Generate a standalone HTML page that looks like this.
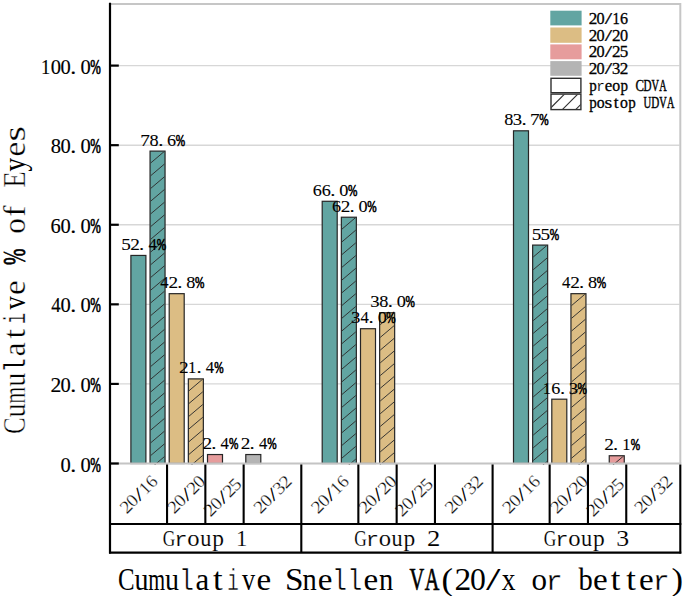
<!DOCTYPE html>
<html><head><meta charset="utf-8"><title>Cumulative Snellen VA chart</title>
<style>html,body{margin:0;padding:0;background:#fff;width:685px;height:596px;overflow:hidden}
svg{display:block} text{font-family:"Liberation Serif",serif}</style></head>
<body><svg width="685" height="596" viewBox="0 0 685 596" font-family="Liberation Serif, serif" fill="#000"><defs><clipPath id="c1"><rect x="150.65" y="151.71" width="13.80" height="312.99"/></clipPath><clipPath id="c2"><rect x="188.95" y="379.49" width="13.80" height="85.21"/></clipPath><clipPath id="c3"><rect x="341.95" y="217.82" width="13.80" height="246.88"/></clipPath><clipPath id="c4"><rect x="380.25" y="313.38" width="13.80" height="151.32"/></clipPath><clipPath id="c5"><rect x="533.25" y="245.69" width="13.80" height="219.01"/></clipPath><clipPath id="c6"><rect x="571.55" y="294.27" width="13.80" height="170.43"/></clipPath><clipPath id="c7"><rect x="609.85" y="456.34" width="13.80" height="8.36"/></clipPath><clipPath id="lh"><rect x="551.3" y="94.4" width="29.3" height="14.9"/></clipPath></defs>
<line x1="111" y1="383.92" x2="679.5" y2="383.92" stroke="#d7d7d7" stroke-width="1.4"/>
<line x1="111" y1="304.34" x2="679.5" y2="304.34" stroke="#d7d7d7" stroke-width="1.4"/>
<line x1="111" y1="224.76" x2="679.5" y2="224.76" stroke="#d7d7d7" stroke-width="1.4"/>
<line x1="111" y1="145.18" x2="679.5" y2="145.18" stroke="#d7d7d7" stroke-width="1.4"/>
<line x1="111" y1="65.60" x2="679.5" y2="65.60" stroke="#d7d7d7" stroke-width="1.4"/>
<line x1="110" y1="4.1" x2="680.3" y2="4.1" stroke="#c6c6c6" stroke-width="2"/>
<line x1="680.3" y1="3.1" x2="680.3" y2="463.5" stroke="#c6c6c6" stroke-width="2"/>
<rect x="130.90" y="255.44" width="15.00" height="208.06" fill="#62a5a2" stroke="#262626" stroke-width="1.2"/>
<rect x="150.05" y="151.11" width="15.00" height="312.39" fill="#62a5a2" stroke="#262626" stroke-width="1.2"/>
<g clip-path="url(#c1)" stroke="#2e2e2e" stroke-width="0.95"><line x1="165.05" y1="150.81" x2="150.05" y2="163.53"/><line x1="165.05" y1="163.53" x2="150.05" y2="176.25"/><line x1="165.05" y1="176.25" x2="150.05" y2="188.97"/><line x1="165.05" y1="188.97" x2="150.05" y2="201.69"/><line x1="165.05" y1="201.69" x2="150.05" y2="214.41"/><line x1="165.05" y1="214.41" x2="150.05" y2="227.13"/><line x1="165.05" y1="227.13" x2="150.05" y2="239.85"/><line x1="165.05" y1="239.85" x2="150.05" y2="252.57"/><line x1="165.05" y1="252.57" x2="150.05" y2="265.29"/><line x1="165.05" y1="265.29" x2="150.05" y2="278.01"/><line x1="165.05" y1="278.01" x2="150.05" y2="290.73"/><line x1="165.05" y1="290.73" x2="150.05" y2="303.45"/><line x1="165.05" y1="303.45" x2="150.05" y2="316.17"/><line x1="165.05" y1="316.17" x2="150.05" y2="328.89"/><line x1="165.05" y1="328.89" x2="150.05" y2="341.61"/><line x1="165.05" y1="341.61" x2="150.05" y2="354.33"/><line x1="165.05" y1="354.33" x2="150.05" y2="367.05"/><line x1="165.05" y1="367.05" x2="150.05" y2="379.77"/><line x1="165.05" y1="379.77" x2="150.05" y2="392.49"/><line x1="165.05" y1="392.49" x2="150.05" y2="405.21"/><line x1="165.05" y1="405.21" x2="150.05" y2="417.93"/><line x1="165.05" y1="417.93" x2="150.05" y2="430.65"/><line x1="165.05" y1="430.65" x2="150.05" y2="443.37"/><line x1="165.05" y1="443.37" x2="150.05" y2="456.09"/><line x1="165.05" y1="456.09" x2="150.05" y2="468.81"/></g>
<rect x="169.20" y="293.67" width="15.00" height="169.83" fill="#dcbd84" stroke="#262626" stroke-width="1.2"/>
<rect x="188.35" y="378.89" width="15.00" height="84.61" fill="#dcbd84" stroke="#262626" stroke-width="1.2"/>
<g clip-path="url(#c2)" stroke="#2e2e2e" stroke-width="0.95"><line x1="203.35" y1="378.59" x2="188.35" y2="391.31"/><line x1="203.35" y1="391.31" x2="188.35" y2="404.03"/><line x1="203.35" y1="404.03" x2="188.35" y2="416.75"/><line x1="203.35" y1="416.75" x2="188.35" y2="429.47"/><line x1="203.35" y1="429.47" x2="188.35" y2="442.19"/><line x1="203.35" y1="442.19" x2="188.35" y2="454.91"/><line x1="203.35" y1="454.91" x2="188.35" y2="467.63"/></g>
<rect x="207.50" y="454.54" width="15.00" height="8.96" fill="#e69c9c" stroke="#262626" stroke-width="1.2"/>
<rect x="245.80" y="454.54" width="15.00" height="8.96" fill="#b4b4b4" stroke="#262626" stroke-width="1.2"/>
<rect x="322.20" y="201.29" width="15.00" height="262.21" fill="#62a5a2" stroke="#262626" stroke-width="1.2"/>
<rect x="341.35" y="217.22" width="15.00" height="246.28" fill="#62a5a2" stroke="#262626" stroke-width="1.2"/>
<g clip-path="url(#c3)" stroke="#2e2e2e" stroke-width="0.95"><line x1="356.35" y1="216.92" x2="341.35" y2="229.64"/><line x1="356.35" y1="229.64" x2="341.35" y2="242.36"/><line x1="356.35" y1="242.36" x2="341.35" y2="255.08"/><line x1="356.35" y1="255.08" x2="341.35" y2="267.80"/><line x1="356.35" y1="267.80" x2="341.35" y2="280.52"/><line x1="356.35" y1="280.52" x2="341.35" y2="293.24"/><line x1="356.35" y1="293.24" x2="341.35" y2="305.96"/><line x1="356.35" y1="305.96" x2="341.35" y2="318.68"/><line x1="356.35" y1="318.68" x2="341.35" y2="331.40"/><line x1="356.35" y1="331.40" x2="341.35" y2="344.12"/><line x1="356.35" y1="344.12" x2="341.35" y2="356.84"/><line x1="356.35" y1="356.84" x2="341.35" y2="369.56"/><line x1="356.35" y1="369.56" x2="341.35" y2="382.28"/><line x1="356.35" y1="382.28" x2="341.35" y2="395.00"/><line x1="356.35" y1="395.00" x2="341.35" y2="407.72"/><line x1="356.35" y1="407.72" x2="341.35" y2="420.44"/><line x1="356.35" y1="420.44" x2="341.35" y2="433.16"/><line x1="356.35" y1="433.16" x2="341.35" y2="445.88"/><line x1="356.35" y1="445.88" x2="341.35" y2="458.60"/><line x1="356.35" y1="458.60" x2="341.35" y2="471.32"/></g>
<rect x="360.50" y="328.71" width="15.00" height="134.79" fill="#dcbd84" stroke="#262626" stroke-width="1.2"/>
<rect x="379.65" y="312.78" width="15.00" height="150.72" fill="#dcbd84" stroke="#262626" stroke-width="1.2"/>
<g clip-path="url(#c4)" stroke="#2e2e2e" stroke-width="0.95"><line x1="394.65" y1="312.48" x2="379.65" y2="325.20"/><line x1="394.65" y1="325.20" x2="379.65" y2="337.92"/><line x1="394.65" y1="337.92" x2="379.65" y2="350.64"/><line x1="394.65" y1="350.64" x2="379.65" y2="363.36"/><line x1="394.65" y1="363.36" x2="379.65" y2="376.08"/><line x1="394.65" y1="376.08" x2="379.65" y2="388.80"/><line x1="394.65" y1="388.80" x2="379.65" y2="401.52"/><line x1="394.65" y1="401.52" x2="379.65" y2="414.24"/><line x1="394.65" y1="414.24" x2="379.65" y2="426.96"/><line x1="394.65" y1="426.96" x2="379.65" y2="439.68"/><line x1="394.65" y1="439.68" x2="379.65" y2="452.40"/><line x1="394.65" y1="452.40" x2="379.65" y2="465.12"/><line x1="394.65" y1="465.12" x2="379.65" y2="477.84"/></g>
<rect x="513.50" y="130.81" width="15.00" height="332.69" fill="#62a5a2" stroke="#262626" stroke-width="1.2"/>
<rect x="532.65" y="245.09" width="15.00" height="218.41" fill="#62a5a2" stroke="#262626" stroke-width="1.2"/>
<g clip-path="url(#c5)" stroke="#2e2e2e" stroke-width="0.95"><line x1="547.65" y1="244.79" x2="532.65" y2="257.51"/><line x1="547.65" y1="257.51" x2="532.65" y2="270.23"/><line x1="547.65" y1="270.23" x2="532.65" y2="282.95"/><line x1="547.65" y1="282.95" x2="532.65" y2="295.67"/><line x1="547.65" y1="295.67" x2="532.65" y2="308.39"/><line x1="547.65" y1="308.39" x2="532.65" y2="321.11"/><line x1="547.65" y1="321.11" x2="532.65" y2="333.83"/><line x1="547.65" y1="333.83" x2="532.65" y2="346.55"/><line x1="547.65" y1="346.55" x2="532.65" y2="359.27"/><line x1="547.65" y1="359.27" x2="532.65" y2="371.99"/><line x1="547.65" y1="371.99" x2="532.65" y2="384.71"/><line x1="547.65" y1="384.71" x2="532.65" y2="397.43"/><line x1="547.65" y1="397.43" x2="532.65" y2="410.15"/><line x1="547.65" y1="410.15" x2="532.65" y2="422.87"/><line x1="547.65" y1="422.87" x2="532.65" y2="435.59"/><line x1="547.65" y1="435.59" x2="532.65" y2="448.31"/><line x1="547.65" y1="448.31" x2="532.65" y2="461.03"/><line x1="547.65" y1="461.03" x2="532.65" y2="473.75"/></g>
<rect x="551.80" y="399.19" width="15.00" height="64.31" fill="#dcbd84" stroke="#262626" stroke-width="1.2"/>
<rect x="570.95" y="293.67" width="15.00" height="169.83" fill="#dcbd84" stroke="#262626" stroke-width="1.2"/>
<g clip-path="url(#c6)" stroke="#2e2e2e" stroke-width="0.95"><line x1="585.95" y1="293.37" x2="570.95" y2="306.09"/><line x1="585.95" y1="306.09" x2="570.95" y2="318.81"/><line x1="585.95" y1="318.81" x2="570.95" y2="331.53"/><line x1="585.95" y1="331.53" x2="570.95" y2="344.25"/><line x1="585.95" y1="344.25" x2="570.95" y2="356.97"/><line x1="585.95" y1="356.97" x2="570.95" y2="369.69"/><line x1="585.95" y1="369.69" x2="570.95" y2="382.41"/><line x1="585.95" y1="382.41" x2="570.95" y2="395.13"/><line x1="585.95" y1="395.13" x2="570.95" y2="407.85"/><line x1="585.95" y1="407.85" x2="570.95" y2="420.57"/><line x1="585.95" y1="420.57" x2="570.95" y2="433.29"/><line x1="585.95" y1="433.29" x2="570.95" y2="446.01"/><line x1="585.95" y1="446.01" x2="570.95" y2="458.73"/><line x1="585.95" y1="458.73" x2="570.95" y2="471.45"/></g>
<rect x="609.25" y="455.74" width="15.00" height="7.76" fill="#e69c9c" stroke="#262626" stroke-width="1.2"/>
<g clip-path="url(#c7)" stroke="#2e2e2e" stroke-width="0.95"><line x1="624.25" y1="455.44" x2="609.25" y2="468.16"/></g>
<line x1="110" y1="463.5" x2="681.3" y2="463.5" stroke="#c4c4c4" stroke-width="2"/>
<text transform="translate(121.21,249.89) scale(1.111,1.0)" font-size="17.3" stroke="#000" stroke-width="0.09">5</text>
<text transform="translate(130.28,249.89) scale(1.117,1.0)" font-size="17.3" stroke="#000" stroke-width="0.09">2</text>
<text transform="translate(139.01,249.89) scale(1.200,1.0)" font-size="17.3" stroke="#000" stroke-width="0.08">.</text>
<text transform="translate(148.40,249.89) scale(0.963,1.0)" font-size="17.3" stroke="#000" stroke-width="0.10">4</text>
<text transform="translate(156.70,249.89) scale(0.652,1.0)" font-size="17.3" stroke="#000" stroke-width="0.69">%</text>
<text transform="translate(140.22,145.56) scale(1.105,1.0)" font-size="17.3" stroke="#000" stroke-width="0.09">7</text>
<text transform="translate(149.58,145.56) scale(1.056,1.0)" font-size="17.3" stroke="#000" stroke-width="0.09">8</text>
<text transform="translate(158.16,145.56) scale(1.200,1.0)" font-size="17.3" stroke="#000" stroke-width="0.08">.</text>
<text transform="translate(167.10,145.56) scale(1.048,1.0)" font-size="17.3" stroke="#000" stroke-width="0.10">6</text>
<text transform="translate(175.85,145.56) scale(0.652,1.0)" font-size="17.3" stroke="#000" stroke-width="0.69">%</text>
<text transform="translate(160.30,288.12) scale(0.963,1.0)" font-size="17.3" stroke="#000" stroke-width="0.10">4</text>
<text transform="translate(168.58,288.12) scale(1.117,1.0)" font-size="17.3" stroke="#000" stroke-width="0.09">2</text>
<text transform="translate(177.31,288.12) scale(1.200,1.0)" font-size="17.3" stroke="#000" stroke-width="0.08">.</text>
<text transform="translate(186.33,288.12) scale(1.056,1.0)" font-size="17.3" stroke="#000" stroke-width="0.09">8</text>
<text transform="translate(195.00,288.12) scale(0.652,1.0)" font-size="17.3" stroke="#000" stroke-width="0.69">%</text>
<text transform="translate(178.93,373.34) scale(1.117,1.0)" font-size="17.3" stroke="#000" stroke-width="0.09">2</text>
<text transform="translate(188.10,373.34) scale(0.954,1.0)" font-size="17.3" stroke="#000" stroke-width="0.10">1</text>
<text transform="translate(196.46,373.34) scale(1.200,1.0)" font-size="17.3" stroke="#000" stroke-width="0.08">.</text>
<text transform="translate(205.85,373.34) scale(0.963,1.0)" font-size="17.3" stroke="#000" stroke-width="0.10">4</text>
<text transform="translate(214.15,373.34) scale(0.652,1.0)" font-size="17.3" stroke="#000" stroke-width="0.69">%</text>
<text transform="translate(202.48,448.99) scale(1.117,1.0)" font-size="17.3" stroke="#000" stroke-width="0.09">2</text>
<text transform="translate(211.21,448.99) scale(1.200,1.0)" font-size="17.3" stroke="#000" stroke-width="0.08">.</text>
<text transform="translate(220.60,448.99) scale(0.963,1.0)" font-size="17.3" stroke="#000" stroke-width="0.10">4</text>
<text transform="translate(228.90,448.99) scale(0.652,1.0)" font-size="17.3" stroke="#000" stroke-width="0.69">%</text>
<text transform="translate(240.78,448.99) scale(1.117,1.0)" font-size="17.3" stroke="#000" stroke-width="0.09">2</text>
<text transform="translate(249.50,448.99) scale(1.200,1.0)" font-size="17.3" stroke="#000" stroke-width="0.08">.</text>
<text transform="translate(258.90,448.99) scale(0.963,1.0)" font-size="17.3" stroke="#000" stroke-width="0.10">4</text>
<text transform="translate(267.20,448.99) scale(0.652,1.0)" font-size="17.3" stroke="#000" stroke-width="0.69">%</text>
<text transform="translate(312.85,195.74) scale(1.048,1.0)" font-size="17.3" stroke="#000" stroke-width="0.10">6</text>
<text transform="translate(321.65,195.74) scale(1.048,1.0)" font-size="17.3" stroke="#000" stroke-width="0.10">6</text>
<text transform="translate(330.31,195.74) scale(1.200,1.0)" font-size="17.3" stroke="#000" stroke-width="0.08">.</text>
<text transform="translate(339.33,195.74) scale(1.056,1.0)" font-size="17.3" stroke="#000" stroke-width="0.09">0</text>
<text transform="translate(348.00,195.74) scale(0.652,1.0)" font-size="17.3" stroke="#000" stroke-width="0.69">%</text>
<text transform="translate(332.00,211.67) scale(1.048,1.0)" font-size="17.3" stroke="#000" stroke-width="0.10">6</text>
<text transform="translate(340.73,211.67) scale(1.117,1.0)" font-size="17.3" stroke="#000" stroke-width="0.09">2</text>
<text transform="translate(349.45,211.67) scale(1.200,1.0)" font-size="17.3" stroke="#000" stroke-width="0.08">.</text>
<text transform="translate(358.48,211.67) scale(1.056,1.0)" font-size="17.3" stroke="#000" stroke-width="0.09">0</text>
<text transform="translate(367.15,211.67) scale(0.652,1.0)" font-size="17.3" stroke="#000" stroke-width="0.69">%</text>
<text transform="translate(351.03,323.16) scale(1.084,1.0)" font-size="17.3" stroke="#000" stroke-width="0.09">3</text>
<text transform="translate(360.40,323.16) scale(0.963,1.0)" font-size="17.3" stroke="#000" stroke-width="0.10">4</text>
<text transform="translate(368.61,323.16) scale(1.200,1.0)" font-size="17.3" stroke="#000" stroke-width="0.08">.</text>
<text transform="translate(377.63,323.16) scale(1.056,1.0)" font-size="17.3" stroke="#000" stroke-width="0.09">0</text>
<text transform="translate(386.30,323.16) scale(0.652,1.0)" font-size="17.3" stroke="#000" stroke-width="0.69">%</text>
<text transform="translate(370.18,307.23) scale(1.084,1.0)" font-size="17.3" stroke="#000" stroke-width="0.09">3</text>
<text transform="translate(379.18,307.23) scale(1.056,1.0)" font-size="17.3" stroke="#000" stroke-width="0.09">8</text>
<text transform="translate(387.75,307.23) scale(1.200,1.0)" font-size="17.3" stroke="#000" stroke-width="0.08">.</text>
<text transform="translate(396.78,307.23) scale(1.056,1.0)" font-size="17.3" stroke="#000" stroke-width="0.09">0</text>
<text transform="translate(405.45,307.23) scale(0.652,1.0)" font-size="17.3" stroke="#000" stroke-width="0.69">%</text>
<text transform="translate(504.23,125.26) scale(1.056,1.0)" font-size="17.3" stroke="#000" stroke-width="0.09">8</text>
<text transform="translate(512.83,125.26) scale(1.084,1.0)" font-size="17.3" stroke="#000" stroke-width="0.09">3</text>
<text transform="translate(521.60,125.26) scale(1.200,1.0)" font-size="17.3" stroke="#000" stroke-width="0.08">.</text>
<text transform="translate(530.07,125.26) scale(1.105,1.0)" font-size="17.3" stroke="#000" stroke-width="0.09">7</text>
<text transform="translate(539.30,125.26) scale(0.652,1.0)" font-size="17.3" stroke="#000" stroke-width="0.69">%</text>
<text transform="translate(531.76,239.54) scale(1.111,1.0)" font-size="17.3" stroke="#000" stroke-width="0.09">5</text>
<text transform="translate(540.56,239.54) scale(1.111,1.0)" font-size="17.3" stroke="#000" stroke-width="0.09">5</text>
<text transform="translate(549.65,239.54) scale(0.652,1.0)" font-size="17.3" stroke="#000" stroke-width="0.69">%</text>
<text transform="translate(542.75,393.64) scale(0.954,1.0)" font-size="17.3" stroke="#000" stroke-width="0.10">1</text>
<text transform="translate(551.25,393.64) scale(1.048,1.0)" font-size="17.3" stroke="#000" stroke-width="0.10">6</text>
<text transform="translate(559.90,393.64) scale(1.200,1.0)" font-size="17.3" stroke="#000" stroke-width="0.08">.</text>
<text transform="translate(568.73,393.64) scale(1.084,1.0)" font-size="17.3" stroke="#000" stroke-width="0.09">3</text>
<text transform="translate(577.60,393.64) scale(0.652,1.0)" font-size="17.3" stroke="#000" stroke-width="0.69">%</text>
<text transform="translate(562.05,288.12) scale(0.963,1.0)" font-size="17.3" stroke="#000" stroke-width="0.10">4</text>
<text transform="translate(570.33,288.12) scale(1.117,1.0)" font-size="17.3" stroke="#000" stroke-width="0.09">2</text>
<text transform="translate(579.05,288.12) scale(1.200,1.0)" font-size="17.3" stroke="#000" stroke-width="0.08">.</text>
<text transform="translate(588.08,288.12) scale(1.056,1.0)" font-size="17.3" stroke="#000" stroke-width="0.09">8</text>
<text transform="translate(596.75,288.12) scale(0.652,1.0)" font-size="17.3" stroke="#000" stroke-width="0.69">%</text>
<text transform="translate(604.23,450.19) scale(1.117,1.0)" font-size="17.3" stroke="#000" stroke-width="0.09">2</text>
<text transform="translate(612.95,450.19) scale(1.200,1.0)" font-size="17.3" stroke="#000" stroke-width="0.08">.</text>
<text transform="translate(622.20,450.19) scale(0.954,1.0)" font-size="17.3" stroke="#000" stroke-width="0.10">1</text>
<text transform="translate(630.65,450.19) scale(0.652,1.0)" font-size="17.3" stroke="#000" stroke-width="0.69">%</text>
<line x1="110" y1="2.8" x2="110" y2="553.5" stroke="#000" stroke-width="2.2"/>
<line x1="110" y1="463.50" x2="118.8" y2="463.50" stroke="#000" stroke-width="2.2"/>
<text transform="translate(60.61,471.50) scale(1.033,1.0)" font-size="19.9" stroke="#000" stroke-width="0.15">0</text>
<text transform="translate(70.19,471.50) scale(1.200,1.0)" font-size="19.9" stroke="#000" stroke-width="0.12">.</text>
<text transform="translate(80.41,471.50) scale(1.033,1.0)" font-size="19.9" stroke="#000" stroke-width="0.15">0</text>
<text transform="translate(90.17,471.50) scale(0.638,1.0)" font-size="19.9" stroke="#000" stroke-width="0.71">%</text>
<line x1="110" y1="383.92" x2="118.8" y2="383.92" stroke="#000" stroke-width="2.2"/>
<text transform="translate(50.54,391.92) scale(1.092,1.0)" font-size="19.9" stroke="#000" stroke-width="0.14">2</text>
<text transform="translate(60.61,391.92) scale(1.033,1.0)" font-size="19.9" stroke="#000" stroke-width="0.15">0</text>
<text transform="translate(70.19,391.92) scale(1.200,1.0)" font-size="19.9" stroke="#000" stroke-width="0.12">.</text>
<text transform="translate(80.41,391.92) scale(1.033,1.0)" font-size="19.9" stroke="#000" stroke-width="0.15">0</text>
<text transform="translate(90.17,391.92) scale(0.638,1.0)" font-size="19.9" stroke="#000" stroke-width="0.71">%</text>
<line x1="110" y1="304.34" x2="118.8" y2="304.34" stroke="#000" stroke-width="2.2"/>
<text transform="translate(51.13,312.34) scale(0.942,1.0)" font-size="19.9" stroke="#000" stroke-width="0.16">4</text>
<text transform="translate(60.61,312.34) scale(1.033,1.0)" font-size="19.9" stroke="#000" stroke-width="0.15">0</text>
<text transform="translate(70.19,312.34) scale(1.200,1.0)" font-size="19.9" stroke="#000" stroke-width="0.12">.</text>
<text transform="translate(80.41,312.34) scale(1.033,1.0)" font-size="19.9" stroke="#000" stroke-width="0.15">0</text>
<text transform="translate(90.17,312.34) scale(0.638,1.0)" font-size="19.9" stroke="#000" stroke-width="0.71">%</text>
<line x1="110" y1="224.76" x2="118.8" y2="224.76" stroke="#000" stroke-width="2.2"/>
<text transform="translate(50.62,232.76) scale(1.025,1.0)" font-size="19.9" stroke="#000" stroke-width="0.15">6</text>
<text transform="translate(60.61,232.76) scale(1.033,1.0)" font-size="19.9" stroke="#000" stroke-width="0.15">0</text>
<text transform="translate(70.19,232.76) scale(1.200,1.0)" font-size="19.9" stroke="#000" stroke-width="0.12">.</text>
<text transform="translate(80.41,232.76) scale(1.033,1.0)" font-size="19.9" stroke="#000" stroke-width="0.15">0</text>
<text transform="translate(90.17,232.76) scale(0.638,1.0)" font-size="19.9" stroke="#000" stroke-width="0.71">%</text>
<line x1="110" y1="145.18" x2="118.8" y2="145.18" stroke="#000" stroke-width="2.2"/>
<text transform="translate(50.71,153.18) scale(1.033,1.0)" font-size="19.9" stroke="#000" stroke-width="0.15">8</text>
<text transform="translate(60.61,153.18) scale(1.033,1.0)" font-size="19.9" stroke="#000" stroke-width="0.15">0</text>
<text transform="translate(70.19,153.18) scale(1.200,1.0)" font-size="19.9" stroke="#000" stroke-width="0.12">.</text>
<text transform="translate(80.41,153.18) scale(1.033,1.0)" font-size="19.9" stroke="#000" stroke-width="0.15">0</text>
<text transform="translate(90.17,153.18) scale(0.638,1.0)" font-size="19.9" stroke="#000" stroke-width="0.71">%</text>
<line x1="110" y1="65.60" x2="118.8" y2="65.60" stroke="#000" stroke-width="2.2"/>
<text transform="translate(41.05,73.60) scale(0.933,1.0)" font-size="19.9" stroke="#000" stroke-width="0.16">1</text>
<text transform="translate(50.71,73.60) scale(1.033,1.0)" font-size="19.9" stroke="#000" stroke-width="0.15">0</text>
<text transform="translate(60.61,73.60) scale(1.033,1.0)" font-size="19.9" stroke="#000" stroke-width="0.15">0</text>
<text transform="translate(70.19,73.60) scale(1.200,1.0)" font-size="19.9" stroke="#000" stroke-width="0.12">.</text>
<text transform="translate(80.41,73.60) scale(1.033,1.0)" font-size="19.9" stroke="#000" stroke-width="0.15">0</text>
<text transform="translate(90.17,73.60) scale(0.638,1.0)" font-size="19.9" stroke="#000" stroke-width="0.71">%</text>
<g transform="translate(138.53,494.20) rotate(-45)"><text transform="translate(-22.83,6.00) scale(1.110,1.0)" font-size="17.8" stroke="#fff" stroke-width="0.23">2</text>
<text transform="translate(-13.67,6.00) scale(1.050,1.0)" font-size="17.8" stroke="#fff" stroke-width="0.24">0</text>
<text transform="translate(-4.27,6.00) scale(1.729,1.0)" font-size="17.8">/</text>
<text transform="translate(4.55,6.00) scale(0.948,1.0)" font-size="17.8" stroke="#fff" stroke-width="0.26">1</text>
<text transform="translate(13.24,6.00) scale(1.041,1.0)" font-size="17.8" stroke="#fff" stroke-width="0.24">6</text></g>
<g transform="translate(186.20,494.20) rotate(-45)"><text transform="translate(-22.83,6.00) scale(1.110,1.0)" font-size="17.8" stroke="#fff" stroke-width="0.23">2</text>
<text transform="translate(-13.67,6.00) scale(1.050,1.0)" font-size="17.8" stroke="#fff" stroke-width="0.24">0</text>
<text transform="translate(-4.27,6.00) scale(1.729,1.0)" font-size="17.8">/</text>
<text transform="translate(4.17,6.00) scale(1.110,1.0)" font-size="17.8" stroke="#fff" stroke-width="0.23">2</text>
<text transform="translate(13.33,6.00) scale(1.050,1.0)" font-size="17.8" stroke="#fff" stroke-width="0.24">0</text></g>
<g transform="translate(222.50,497.00) rotate(-45)"><text transform="translate(-22.83,6.00) scale(1.110,1.0)" font-size="17.8" stroke="#fff" stroke-width="0.23">2</text>
<text transform="translate(-13.67,6.00) scale(1.050,1.0)" font-size="17.8" stroke="#fff" stroke-width="0.24">0</text>
<text transform="translate(-4.27,6.00) scale(1.729,1.0)" font-size="17.8">/</text>
<text transform="translate(4.17,6.00) scale(1.110,1.0)" font-size="17.8" stroke="#fff" stroke-width="0.23">2</text>
<text transform="translate(12.90,6.00) scale(1.105,1.0)" font-size="17.8" stroke="#fff" stroke-width="0.23">5</text></g>
<g transform="translate(272.48,494.20) rotate(-45)"><text transform="translate(-22.83,6.00) scale(1.110,1.0)" font-size="17.8" stroke="#fff" stroke-width="0.23">2</text>
<text transform="translate(-13.67,6.00) scale(1.050,1.0)" font-size="17.8" stroke="#fff" stroke-width="0.24">0</text>
<text transform="translate(-4.27,6.00) scale(1.729,1.0)" font-size="17.8">/</text>
<text transform="translate(4.12,6.00) scale(1.077,1.0)" font-size="17.8" stroke="#fff" stroke-width="0.23">3</text>
<text transform="translate(13.17,6.00) scale(1.110,1.0)" font-size="17.8" stroke="#fff" stroke-width="0.23">2</text></g>
<g transform="translate(329.83,494.20) rotate(-45)"><text transform="translate(-22.83,6.00) scale(1.110,1.0)" font-size="17.8" stroke="#fff" stroke-width="0.23">2</text>
<text transform="translate(-13.67,6.00) scale(1.050,1.0)" font-size="17.8" stroke="#fff" stroke-width="0.24">0</text>
<text transform="translate(-4.27,6.00) scale(1.729,1.0)" font-size="17.8">/</text>
<text transform="translate(4.55,6.00) scale(0.948,1.0)" font-size="17.8" stroke="#fff" stroke-width="0.26">1</text>
<text transform="translate(13.24,6.00) scale(1.041,1.0)" font-size="17.8" stroke="#fff" stroke-width="0.24">6</text></g>
<g transform="translate(377.50,494.20) rotate(-45)"><text transform="translate(-22.83,6.00) scale(1.110,1.0)" font-size="17.8" stroke="#fff" stroke-width="0.23">2</text>
<text transform="translate(-13.67,6.00) scale(1.050,1.0)" font-size="17.8" stroke="#fff" stroke-width="0.24">0</text>
<text transform="translate(-4.27,6.00) scale(1.729,1.0)" font-size="17.8">/</text>
<text transform="translate(4.17,6.00) scale(1.110,1.0)" font-size="17.8" stroke="#fff" stroke-width="0.23">2</text>
<text transform="translate(13.33,6.00) scale(1.050,1.0)" font-size="17.8" stroke="#fff" stroke-width="0.24">0</text></g>
<g transform="translate(413.80,497.00) rotate(-45)"><text transform="translate(-22.83,6.00) scale(1.110,1.0)" font-size="17.8" stroke="#fff" stroke-width="0.23">2</text>
<text transform="translate(-13.67,6.00) scale(1.050,1.0)" font-size="17.8" stroke="#fff" stroke-width="0.24">0</text>
<text transform="translate(-4.27,6.00) scale(1.729,1.0)" font-size="17.8">/</text>
<text transform="translate(4.17,6.00) scale(1.110,1.0)" font-size="17.8" stroke="#fff" stroke-width="0.23">2</text>
<text transform="translate(12.90,6.00) scale(1.105,1.0)" font-size="17.8" stroke="#fff" stroke-width="0.23">5</text></g>
<g transform="translate(463.77,494.20) rotate(-45)"><text transform="translate(-22.83,6.00) scale(1.110,1.0)" font-size="17.8" stroke="#fff" stroke-width="0.23">2</text>
<text transform="translate(-13.67,6.00) scale(1.050,1.0)" font-size="17.8" stroke="#fff" stroke-width="0.24">0</text>
<text transform="translate(-4.27,6.00) scale(1.729,1.0)" font-size="17.8">/</text>
<text transform="translate(4.12,6.00) scale(1.077,1.0)" font-size="17.8" stroke="#fff" stroke-width="0.23">3</text>
<text transform="translate(13.17,6.00) scale(1.110,1.0)" font-size="17.8" stroke="#fff" stroke-width="0.23">2</text></g>
<g transform="translate(521.12,494.20) rotate(-45)"><text transform="translate(-22.83,6.00) scale(1.110,1.0)" font-size="17.8" stroke="#fff" stroke-width="0.23">2</text>
<text transform="translate(-13.67,6.00) scale(1.050,1.0)" font-size="17.8" stroke="#fff" stroke-width="0.24">0</text>
<text transform="translate(-4.27,6.00) scale(1.729,1.0)" font-size="17.8">/</text>
<text transform="translate(4.55,6.00) scale(0.948,1.0)" font-size="17.8" stroke="#fff" stroke-width="0.26">1</text>
<text transform="translate(13.24,6.00) scale(1.041,1.0)" font-size="17.8" stroke="#fff" stroke-width="0.24">6</text></g>
<g transform="translate(568.80,494.20) rotate(-45)"><text transform="translate(-22.83,6.00) scale(1.110,1.0)" font-size="17.8" stroke="#fff" stroke-width="0.23">2</text>
<text transform="translate(-13.67,6.00) scale(1.050,1.0)" font-size="17.8" stroke="#fff" stroke-width="0.24">0</text>
<text transform="translate(-4.27,6.00) scale(1.729,1.0)" font-size="17.8">/</text>
<text transform="translate(4.17,6.00) scale(1.110,1.0)" font-size="17.8" stroke="#fff" stroke-width="0.23">2</text>
<text transform="translate(13.33,6.00) scale(1.050,1.0)" font-size="17.8" stroke="#fff" stroke-width="0.24">0</text></g>
<g transform="translate(605.10,497.00) rotate(-45)"><text transform="translate(-22.83,6.00) scale(1.110,1.0)" font-size="17.8" stroke="#fff" stroke-width="0.23">2</text>
<text transform="translate(-13.67,6.00) scale(1.050,1.0)" font-size="17.8" stroke="#fff" stroke-width="0.24">0</text>
<text transform="translate(-4.27,6.00) scale(1.729,1.0)" font-size="17.8">/</text>
<text transform="translate(4.17,6.00) scale(1.110,1.0)" font-size="17.8" stroke="#fff" stroke-width="0.23">2</text>
<text transform="translate(12.90,6.00) scale(1.105,1.0)" font-size="17.8" stroke="#fff" stroke-width="0.23">5</text></g>
<g transform="translate(653.27,494.20) rotate(-45)"><text transform="translate(-22.83,6.00) scale(1.110,1.0)" font-size="17.8" stroke="#fff" stroke-width="0.23">2</text>
<text transform="translate(-13.67,6.00) scale(1.050,1.0)" font-size="17.8" stroke="#fff" stroke-width="0.24">0</text>
<text transform="translate(-4.27,6.00) scale(1.729,1.0)" font-size="17.8">/</text>
<text transform="translate(4.12,6.00) scale(1.077,1.0)" font-size="17.8" stroke="#fff" stroke-width="0.23">3</text>
<text transform="translate(13.17,6.00) scale(1.110,1.0)" font-size="17.8" stroke="#fff" stroke-width="0.23">2</text></g>
<g stroke="#000" stroke-width="2.1">
<line x1="680.3" y1="464.5" x2="680.3" y2="553.5"/>
<line x1="109" y1="524" x2="681.3" y2="524"/>
<line x1="109" y1="552.6" x2="681.3" y2="552.6"/>
<line x1="167.05" y1="464.5" x2="167.05" y2="524"/>
<line x1="205.35" y1="464.5" x2="205.35" y2="524"/>
<line x1="243.65" y1="464.5" x2="243.65" y2="524"/>
<line x1="358.35" y1="464.5" x2="358.35" y2="524"/>
<line x1="396.65" y1="464.5" x2="396.65" y2="524"/>
<line x1="434.95" y1="464.5" x2="434.95" y2="524"/>
<line x1="549.65" y1="464.5" x2="549.65" y2="524"/>
<line x1="587.95" y1="464.5" x2="587.95" y2="524"/>
<line x1="626.25" y1="464.5" x2="626.25" y2="524"/>
<line x1="301.30" y1="464.5" x2="301.30" y2="552.6"/>
<line x1="492.60" y1="464.5" x2="492.60" y2="552.6"/>
</g>
<text transform="translate(162.84,546.20) scale(0.746,1.0)" font-size="23.3" stroke="#fff" stroke-width="0.16">G</text>
<text transform="translate(174.34,546.20) scale(1.094,1.0)" font-size="20.40" font-family="Liberation Mono" style="font-family:'Liberation Mono',monospace" stroke="#fff" stroke-width="0.19">r</text>
<text transform="translate(187.34,546.20) scale(1.058,1.0)" font-size="23.3" stroke="#fff" stroke-width="0.11">o</text>
<text transform="translate(200.13,546.20) scale(0.955,1.0)" font-size="23.3" stroke="#fff" stroke-width="0.13">u</text>
<text transform="translate(212.20,546.20) scale(1.008,1.0)" font-size="23.3" stroke="#fff" stroke-width="0.12">p</text>
<text transform="translate(236.09,546.20) scale(0.978,1.0)" font-size="23.3" stroke="#fff" stroke-width="0.12">1</text>
<text transform="translate(354.14,546.20) scale(0.746,1.0)" font-size="23.3" stroke="#fff" stroke-width="0.16">G</text>
<text transform="translate(365.64,546.20) scale(1.094,1.0)" font-size="20.40" font-family="Liberation Mono" style="font-family:'Liberation Mono',monospace" stroke="#fff" stroke-width="0.19">r</text>
<text transform="translate(378.64,546.20) scale(1.058,1.0)" font-size="23.3" stroke="#fff" stroke-width="0.11">o</text>
<text transform="translate(391.43,546.20) scale(0.955,1.0)" font-size="23.3" stroke="#fff" stroke-width="0.13">u</text>
<text transform="translate(403.50,546.20) scale(1.008,1.0)" font-size="23.3" stroke="#fff" stroke-width="0.12">p</text>
<text transform="translate(426.88,546.20) scale(1.145,1.0)" font-size="23.3" stroke="#fff" stroke-width="0.10">2</text>
<text transform="translate(543.64,546.20) scale(0.746,1.0)" font-size="23.3" stroke="#fff" stroke-width="0.16">G</text>
<text transform="translate(555.14,546.20) scale(1.094,1.0)" font-size="20.40" font-family="Liberation Mono" style="font-family:'Liberation Mono',monospace" stroke="#fff" stroke-width="0.19">r</text>
<text transform="translate(568.14,546.20) scale(1.058,1.0)" font-size="23.3" stroke="#fff" stroke-width="0.11">o</text>
<text transform="translate(580.93,546.20) scale(0.955,1.0)" font-size="23.3" stroke="#fff" stroke-width="0.13">u</text>
<text transform="translate(593.00,546.20) scale(1.008,1.0)" font-size="23.3" stroke="#fff" stroke-width="0.12">p</text>
<text transform="translate(616.32,546.20) scale(1.111,1.0)" font-size="23.3" stroke="#fff" stroke-width="0.11">3</text>
<text transform="translate(118.01,589.50) scale(0.791,1.0)" font-size="31.5">C</text>
<text transform="translate(134.50,589.50) scale(0.889,1.0)" font-size="31.5">u</text>
<text transform="translate(148.26,589.50) scale(0.688,1.0)" font-size="31.5">m</text>
<text transform="translate(165.10,589.50) scale(0.889,1.0)" font-size="31.5">u</text>
<text transform="translate(179.13,589.50) scale(0.808,1.0)" font-size="30.15" font-family="Liberation Mono" style="font-family:'Liberation Mono',monospace" stroke="#fff" stroke-width="0.37">l</text>
<text transform="translate(195.44,589.50) scale(0.984,1.0)" font-size="31.5">a</text>
<text transform="translate(213.07,589.50) scale(1.100,1.0)" font-size="31.5">t</text>
<text transform="translate(227.32,589.50) scale(0.666,1.0)" font-size="28.76" font-family="Liberation Mono" style="font-family:'Liberation Mono',monospace" stroke="#fff" stroke-width="0.43">i</text>
<text transform="translate(241.97,589.50) scale(0.835,1.0)" font-size="31.5">v</text>
<text transform="translate(256.44,589.50) scale(1.050,1.0)" font-size="31.5">e</text>
<text transform="translate(285.11,589.50) scale(1.057,1.0)" font-size="31.5">S</text>
<text transform="translate(302.52,589.50) scale(0.904,1.0)" font-size="31.5">n</text>
<text transform="translate(317.64,589.50) scale(1.050,1.0)" font-size="31.5">e</text>
<text transform="translate(332.13,589.50) scale(0.808,1.0)" font-size="30.15" font-family="Liberation Mono" style="font-family:'Liberation Mono',monospace" stroke="#fff" stroke-width="0.37">l</text>
<text transform="translate(347.43,589.50) scale(0.808,1.0)" font-size="30.15" font-family="Liberation Mono" style="font-family:'Liberation Mono',monospace" stroke="#fff" stroke-width="0.37">l</text>
<text transform="translate(363.54,589.50) scale(1.050,1.0)" font-size="31.5">e</text>
<text transform="translate(379.02,589.50) scale(0.904,1.0)" font-size="31.5">n</text>
<text transform="translate(409.51,589.50) scale(0.646,1.0)" font-size="31.5" stroke="#000" stroke-width="0.70">V</text>
<text transform="translate(424.84,589.50) scale(0.641,1.0)" font-size="31.5" stroke="#000" stroke-width="0.70">A</text>
<text transform="translate(441.48,589.50) scale(1.100,1.0)" font-size="31.5">(</text>
<text transform="translate(454.54,589.50) scale(1.066,1.0)" font-size="31.5">2</text>
<text transform="translate(470.11,589.50) scale(1.008,1.0)" font-size="31.5">0</text>
<text transform="translate(486.08,589.50) scale(1.661,1.0)" font-size="31.5">/</text>
<text transform="translate(501.83,589.50) scale(0.872,1.0)" font-size="31.5">x</text>
<text transform="translate(531.49,589.50) scale(0.986,1.0)" font-size="31.5">o</text>
<text transform="translate(545.72,589.50) scale(1.019,1.0)" font-size="27.58" font-family="Liberation Mono" style="font-family:'Liberation Mono',monospace" stroke="#fff" stroke-width="0.27">r</text>
<text transform="translate(578.57,589.50) scale(0.904,1.0)" font-size="31.5">b</text>
<text transform="translate(593.04,589.50) scale(1.050,1.0)" font-size="31.5">e</text>
<text transform="translate(610.87,589.50) scale(1.100,1.0)" font-size="31.5">t</text>
<text transform="translate(626.17,589.50) scale(1.100,1.0)" font-size="31.5">t</text>
<text transform="translate(638.94,589.50) scale(1.050,1.0)" font-size="31.5">e</text>
<text transform="translate(652.82,589.50) scale(1.019,1.0)" font-size="27.58" font-family="Liberation Mono" style="font-family:'Liberation Mono',monospace" stroke="#fff" stroke-width="0.27">r</text>
<text transform="translate(671.38,589.50) scale(1.100,1.0)" font-size="31.5">)</text>
<g transform="translate(24.6,433.6) rotate(-90)"><text transform="translate(-0.49,0.00) scale(0.796,1.0)" font-size="31.5" stroke="#fff" stroke-width="0.44">C</text>
<text transform="translate(16.09,0.00) scale(0.894,1.0)" font-size="31.5" stroke="#fff" stroke-width="0.39">u</text>
<text transform="translate(29.92,0.00) scale(0.692,1.0)" font-size="31.5" stroke="#fff" stroke-width="0.51">m</text>
<text transform="translate(46.85,0.00) scale(0.894,1.0)" font-size="31.5" stroke="#fff" stroke-width="0.39">u</text>
<text transform="translate(60.94,0.00) scale(0.812,1.0)" font-size="30.15" font-family="Liberation Mono" style="font-family:'Liberation Mono',monospace" stroke="#fff" stroke-width="0.37">l</text>
<text transform="translate(77.34,0.00) scale(0.989,1.0)" font-size="31.5" stroke="#fff" stroke-width="0.35">a</text>
<text transform="translate(95.09,0.00) scale(1.100,1.0)" font-size="31.5" stroke="#fff" stroke-width="0.32">t</text>
<text transform="translate(109.39,0.00) scale(0.669,1.0)" font-size="28.76" font-family="Liberation Mono" style="font-family:'Liberation Mono',monospace" stroke="#fff" stroke-width="0.43">i</text>
<text transform="translate(124.12,0.00) scale(0.840,1.0)" font-size="31.5">v</text>
<text transform="translate(138.66,0.00) scale(1.055,1.0)" font-size="31.5" stroke="#fff" stroke-width="0.33">e</text>
<text transform="translate(168.66,0.00) scale(0.626,1.0)" font-size="31.5" stroke="#000" stroke-width="0.80">%</text>
<text transform="translate(199.83,0.00) scale(0.991,1.0)" font-size="31.5" stroke="#fff" stroke-width="0.35">o</text>
<text transform="translate(216.90,0.00) scale(1.066,1.0)" font-size="31.5" stroke="#fff" stroke-width="0.33">f</text>
<text transform="translate(245.84,0.00) scale(0.853,1.0)" font-size="31.5" stroke="#fff" stroke-width="0.41">E</text>
<text transform="translate(262.20,0.00) scale(0.868,1.0)" font-size="31.5">y</text>
<text transform="translate(277.08,0.00) scale(1.055,1.0)" font-size="31.5" stroke="#fff" stroke-width="0.33">e</text>
<text transform="translate(292.14,0.00) scale(1.252,1.0)" font-size="31.5" stroke="#fff" stroke-width="0.28">s</text></g>
<rect x="550.3" y="10.7" width="31.3" height="14.7" fill="#62a5a2"/>
<rect x="550.3" y="27.5" width="31.3" height="15.3" fill="#dcbd84"/>
<rect x="550.3" y="44.4" width="31.3" height="14.9" fill="#e69c9c"/>
<rect x="550.3" y="61.1" width="31.3" height="14.7" fill="#b4b4b4"/>
<rect x="551.0" y="78.3" width="29.9" height="14.4" fill="none" stroke="#303030" stroke-width="1.4"/>
<rect x="551.0" y="94.1" width="29.9" height="15.5" fill="none" stroke="#303030" stroke-width="1.4"/>
<g clip-path="url(#lh)" stroke="#303030" stroke-width="1.1"><line x1="535.00" y1="110.30" x2="551.90" y2="93.40"/><line x1="548.30" y1="110.30" x2="565.20" y2="93.40"/><line x1="561.60" y1="110.30" x2="578.50" y2="93.40"/><line x1="574.90" y1="110.30" x2="591.80" y2="93.40"/><line x1="588.20" y1="110.30" x2="605.10" y2="93.40"/></g>
<text transform="translate(588.67,23.70) scale(1.091,1.0)" font-size="15.7" stroke="#000" stroke-width="0.28">2</text>
<text transform="translate(596.60,23.70) scale(1.032,1.0)" font-size="15.7" stroke="#000" stroke-width="0.29">0</text>
<text transform="translate(604.75,23.70) scale(1.699,1.0)" font-size="15.7" stroke="#000" stroke-width="0.18">/</text>
<text transform="translate(612.39,23.70) scale(0.931,1.0)" font-size="15.7" stroke="#000" stroke-width="0.32">1</text>
<text transform="translate(619.93,23.70) scale(1.023,1.0)" font-size="15.7" stroke="#000" stroke-width="0.29">6</text>
<text transform="translate(588.67,41.00) scale(1.091,1.0)" font-size="15.7" stroke="#000" stroke-width="0.28">2</text>
<text transform="translate(596.60,41.00) scale(1.032,1.0)" font-size="15.7" stroke="#000" stroke-width="0.29">0</text>
<text transform="translate(604.75,41.00) scale(1.699,1.0)" font-size="15.7" stroke="#000" stroke-width="0.18">/</text>
<text transform="translate(612.07,41.00) scale(1.091,1.0)" font-size="15.7" stroke="#000" stroke-width="0.28">2</text>
<text transform="translate(620.00,41.00) scale(1.032,1.0)" font-size="15.7" stroke="#000" stroke-width="0.29">0</text>
<text transform="translate(588.67,57.30) scale(1.091,1.0)" font-size="15.7" stroke="#000" stroke-width="0.28">2</text>
<text transform="translate(596.60,57.30) scale(1.032,1.0)" font-size="15.7" stroke="#000" stroke-width="0.29">0</text>
<text transform="translate(604.75,57.30) scale(1.699,1.0)" font-size="15.7" stroke="#000" stroke-width="0.18">/</text>
<text transform="translate(612.07,57.30) scale(1.091,1.0)" font-size="15.7" stroke="#000" stroke-width="0.28">2</text>
<text transform="translate(619.63,57.30) scale(1.085,1.0)" font-size="15.7" stroke="#000" stroke-width="0.28">5</text>
<text transform="translate(588.67,73.90) scale(1.091,1.0)" font-size="15.7" stroke="#000" stroke-width="0.28">2</text>
<text transform="translate(596.60,73.90) scale(1.032,1.0)" font-size="15.7" stroke="#000" stroke-width="0.29">0</text>
<text transform="translate(604.75,73.90) scale(1.699,1.0)" font-size="15.7" stroke="#000" stroke-width="0.18">/</text>
<text transform="translate(612.02,73.90) scale(1.058,1.0)" font-size="15.7" stroke="#000" stroke-width="0.28">3</text>
<text transform="translate(619.87,73.90) scale(1.091,1.0)" font-size="15.7" stroke="#000" stroke-width="0.28">2</text>
<text transform="translate(589.25,90.90) scale(0.961,1.0)" font-size="15.7" stroke="#000" stroke-width="0.31">p</text>
<text transform="translate(596.15,90.90) scale(1.042,1.0)" font-size="13.74" font-family="Liberation Mono" style="font-family:'Liberation Mono',monospace" stroke="#fff" stroke-width="0.13">r</text>
<text transform="translate(604.67,90.90) scale(1.074,1.0)" font-size="15.7" stroke="#000" stroke-width="0.28">e</text>
<text transform="translate(612.29,90.90) scale(1.008,1.0)" font-size="15.7" stroke="#000" stroke-width="0.30">o</text>
<text transform="translate(620.45,90.90) scale(0.961,1.0)" font-size="15.7" stroke="#000" stroke-width="0.31">p</text>
<text transform="translate(635.50,90.90) scale(0.809,1.0)" font-size="15.7" stroke="#000" stroke-width="0.37">C</text>
<text transform="translate(643.50,90.90) scale(0.707,1.0)" font-size="15.7" stroke="#000" stroke-width="0.42">D</text>
<text transform="translate(651.51,90.90) scale(0.660,1.0)" font-size="15.7" stroke="#000" stroke-width="0.45">V</text>
<text transform="translate(659.32,90.90) scale(0.655,1.0)" font-size="15.7" stroke="#000" stroke-width="0.46">A</text>
<text transform="translate(589.25,107.60) scale(0.961,1.0)" font-size="15.7" stroke="#000" stroke-width="0.31">p</text>
<text transform="translate(596.69,107.60) scale(1.008,1.0)" font-size="15.7" stroke="#000" stroke-width="0.30">o</text>
<text transform="translate(604.51,107.60) scale(1.274,1.0)" font-size="15.7" stroke="#000" stroke-width="0.24">s</text>
<text transform="translate(613.82,107.60) scale(1.100,1.0)" font-size="15.7" stroke="#000" stroke-width="0.27">t</text>
<text transform="translate(620.09,107.60) scale(1.008,1.0)" font-size="15.7" stroke="#000" stroke-width="0.30">o</text>
<text transform="translate(628.25,107.60) scale(0.961,1.0)" font-size="15.7" stroke="#000" stroke-width="0.31">p</text>
<text transform="translate(643.60,107.60) scale(0.679,1.0)" font-size="15.7" stroke="#000" stroke-width="0.44">U</text>
<text transform="translate(651.30,107.60) scale(0.707,1.0)" font-size="15.7" stroke="#000" stroke-width="0.42">D</text>
<text transform="translate(659.31,107.60) scale(0.660,1.0)" font-size="15.7" stroke="#000" stroke-width="0.45">V</text>
<text transform="translate(667.12,107.60) scale(0.655,1.0)" font-size="15.7" stroke="#000" stroke-width="0.46">A</text></svg></body></html>
